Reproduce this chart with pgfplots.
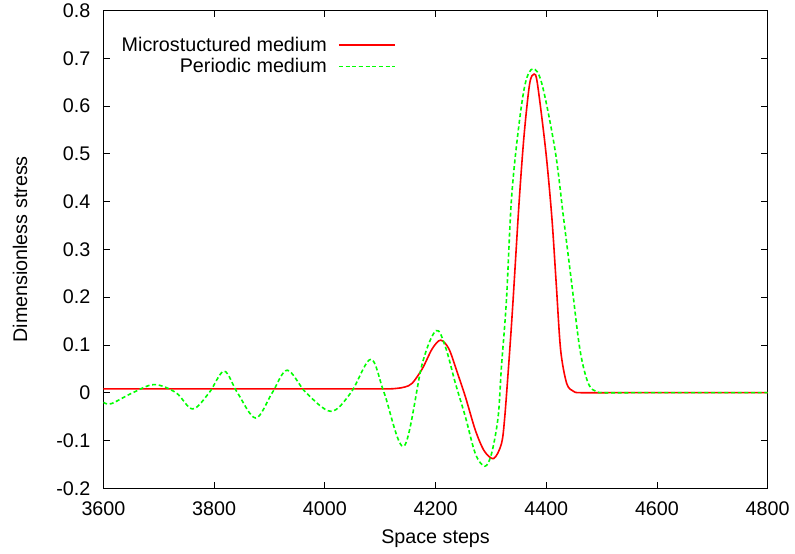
\documentclass[border=0pt]{standalone}
\usepackage{pgfplots}
\pgfplotsset{compat=1.18}
\usepackage{fontspec}
\setmainfont{Liberation Sans}
\definecolor{gpgreen}{RGB}{0,255,0}
\definecolor{gpred}{RGB}{255,0,0}
\begin{document}
\begin{tikzpicture}[font=\fontsize{14.8pt}{17pt}\selectfont]
\begin{axis}[name=ax, scale only axis, width=498.2pt, height=358.3pt,
  xmin=3600, xmax=4800, ymin=-0.2, ymax=0.8,
  xtick={3600,3800,4000,4200,4400,4600,4800},
  xticklabels={3600,3800,4000,4200,4400,4600,4800},
  ytick={-0.2,-0.1,0,0.1,0.2,0.3,0.4,0.5,0.6,0.7,0.8},
  yticklabels={-0.2,-0.1,0,0.1,0.2,0.3,0.4,0.5,0.6,0.7,0.8},
  tick align=inside, major tick length=5pt,
  tick style={black, line width=0.6pt},
  axis line style={line width=0.75pt},
  yticklabel style={anchor=east, inner sep=0pt, xshift=-9.6pt},
  xticklabel style={anchor=base, inner sep=0pt, yshift=-20.8pt},
  xlabel={Space steps}, ylabel={Dimensionless stress},
  every axis x label/.style={at={([yshift=-41.25pt]axis description cs:0.5,0)}, anchor=base, inner sep=0pt},
  every axis y label/.style={at={([xshift=-57.2pt]axis description cs:0,0.5)}, rotate=90, anchor=base, inner sep=0pt},
  legend cell align=right, legend plot pos=right,
  legend style={at={(0.4404,0.951)}, anchor=north east, draw=none, fill=none,
    inner sep=0pt, column sep=6.5pt, row sep=0pt,
    font=\fontsize{14.8pt}{17pt}\selectfont},
  legend image code/.code={\draw[mark repeat=2,mark phase=2,#1] plot coordinates {(0pt,0pt) (21pt,0pt) (42pt,0pt)};},
]
\addplot[color=gpred, line width=1.2pt, smooth, tension=0.5] coordinates {
(3600,0.008) (3700,0.008) (3800,0.008) (3900,0.008) (4000,0.008) (4080,0.008)
(4115,0.008) (4130,0.009) (4145,0.012) (4158,0.02) (4176,0.05) (4194,0.092)
(4209,0.11) (4224,0.092) (4239,0.043) (4254,-0.009) (4272,-0.079) (4288,-0.122)
(4305,-0.138) (4319,-0.107) (4325,-0.051) (4334,0.089) (4340,0.193) (4351,0.40)
(4360,0.54) (4370,0.647) (4378,0.667) (4384,0.647) (4399,0.507) (4410,0.368)
(4418,0.228) (4426,0.089) (4437,0.019) (4449,0.003) (4461,0)
(4520,0) (4600,0) (4700,0) (4800,0)
};
\addlegendentry{Microstuctured medium}
\addplot[color=gpgreen, line width=1.2pt, dash pattern=on 3pt off 2pt, smooth, tension=0.55] coordinates {
(3600,-0.02) (3614,-0.023) (3653,0) (3692,0.017) (3731,0) (3761,-0.034)
(3791,0) (3818,0.045) (3842,0) (3875,-0.053) (3905,0) (3932,0.047) (3966,0)
(4011,-0.039) (4047,0) (4083,0.07) (4107,0) (4143,-0.112) (4176,0.061)
(4201,0.13) (4218,0.095) (4236,0.019) (4254,-0.051) (4272,-0.128) (4289,-0.154)
(4301,-0.128) (4313,-0.051) (4319,0.054) (4328,0.193) (4337,0.403) (4349,0.545)
(4362,0.647) (4376,0.678) (4392,0.647) (4416,0.507) (4431,0.368) (4446,0.228)
(4461,0.089) (4476,0.019) (4491,0.002) (4505,0) (4560,0)
(4650,0) (4720,0) (4800,0)
};
\addlegendentry{Periodic medium}
\end{axis}
\pgfresetboundingbox
\path ([xshift=-77.6pt,yshift=-49.3pt]ax.south west) rectangle ([xshift=20.5pt,yshift=7.9pt]ax.north east);
\end{tikzpicture}
\end{document}
